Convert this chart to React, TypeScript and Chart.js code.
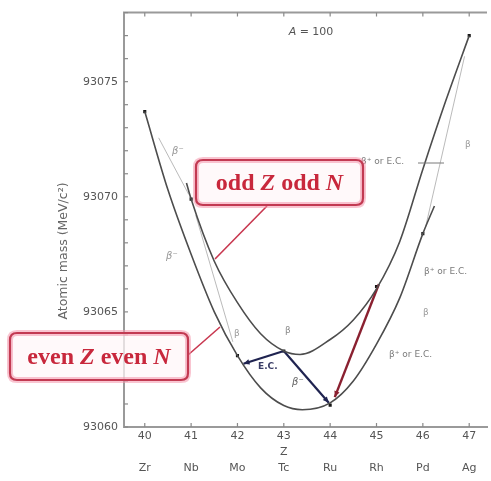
import React, { useEffect, useRef } from 'react';
import { Chart, registerables } from 'chart.js';

Chart.register(...registerables);

// ---- data ----
const Z_TICKS = [40, 41, 42, 43, 44, 45, 46, 47];
const ELEMENTS = ['Zr', 'Nb', 'Mo', 'Tc', 'Ru', 'Rh', 'Pd', 'Ag'];
const MASS_TICKS = [93060, 93061, 93062, 93063, 93064, 93065, 93066, 93067, 93068, 93069, 93070, 93071, 93072, 93073, 93074, 93075, 93076, 93077, 93078];

// even Z even N parabola
const EVEN_Z = [40, 40.5, 41, 41.5, 42, 42.5, 43, 43.4, 44, 44.5, 45, 45.5, 46, 46.25];
const EVEN_M = [93073.7, 93070.3, 93067.5, 93065.0, 93063.1, 93061.7, 93060.93, 93060.75, 93061.05, 93062.0, 93063.6, 93065.6, 93068.4, 93069.6];

// odd Z odd N parabola
const ODD_Z = [40.9, 41, 41.5, 42, 42.5, 43, 43.35, 44, 44.5, 45, 45.5, 46, 46.5, 47];
const ODD_M = [93070.6, 93069.9, 93067.2, 93065.4, 93064.05, 93063.3, 93063.15, 93063.8, 93064.65, 93066.0, 93068.05, 93071.2, 93074.2, 93077.0];

// nuclides (A = 100)
const NUCLIDE_Z = [40, 41, 42, 43, 44, 45, 46, 47];
const NUCLIDE_M = [93073.7, 93069.9, 93063.1, 93063.3, 93060.95, 93066.1, 93068.4, 93077.0];

// decay arrows
const DECAY_FROM_Z = [40.3, 41.1, 43, 43, 45.05, 46.9];
const DECAY_FROM_M = [93072.56, 93069.2, 93063.3, 93063.3, 93066.2, 93076.1];
const DECAY_TO_Z = [40.95, 41.9, 42.13, 43.97, 44.1, 46.06];
const DECAY_TO_M = [93070.1, 93063.7, 93062.75, 93061.05, 93061.3, 93068.7];
const DECAY_KIND = ['faint', 'faint', 'ec', 'beta', 'betaplus', 'faint'];

const KIND_STYLE: Record<string, { color: string; width: number; head: number }> = {
  faint: { color: 'rgba(140,140,140,0.6)', width: 1, head: 0 },
  ec: { color: '#1f2350', width: 2.2, head: 6 },
  beta: { color: '#1f2350', width: 2.2, head: 6 },
  betaplus: { color: '#8a2030', width: 2.4, head: 6 },
};

const FONT = '"DejaVu Sans", sans-serif';

function drawCallout(
  ctx: CanvasRenderingContext2D,
  bx: number, by: number, bw: number, bh: number,
  parts: { t: string; italic: boolean }[],
  from: [number, number], to: [number, number]
) {
  ctx.save();
  ctx.strokeStyle = '#c8374f';
  ctx.lineWidth = 1.6;
  ctx.beginPath();
  ctx.moveTo(from[0], from[1]);
  ctx.lineTo(to[0], to[1]);
  ctx.stroke();
  const r = 7;
  ctx.beginPath();
  ctx.moveTo(bx + r, by);
  ctx.lineTo(bx + bw - r, by);
  ctx.quadraticCurveTo(bx + bw, by, bx + bw, by + r);
  ctx.lineTo(bx + bw, by + bh - r);
  ctx.quadraticCurveTo(bx + bw, by + bh, bx + bw - r, by + bh);
  ctx.lineTo(bx + r, by + bh);
  ctx.quadraticCurveTo(bx, by + bh, bx, by + bh - r);
  ctx.lineTo(bx, by + r);
  ctx.quadraticCurveTo(bx, by, bx + r, by);
  ctx.closePath();
  ctx.fillStyle = 'rgba(255,246,248,0.72)';
  ctx.fill();
  ctx.strokeStyle = 'rgba(244,150,172,0.55)';
  ctx.lineWidth = 6;
  ctx.stroke();
  ctx.strokeStyle = '#c23a52';
  ctx.lineWidth = 2.2;
  ctx.stroke();
  const fontFor = (it: boolean) => `${it ? 'italic ' : ''}bold 24px "Liberation Serif", serif`;
  let total = 0;
  for (const p of parts) {
    ctx.font = fontFor(p.italic);
    total += ctx.measureText(p.t).width;
  }
  let x = bx + bw / 2 - total / 2;
  const y = by + bh / 2 + 1;
  ctx.fillStyle = '#c8283c';
  ctx.textBaseline = 'middle';
  ctx.textAlign = 'left';
  for (const p of parts) {
    ctx.font = fontFor(p.italic);
    ctx.fillText(p.t, x, y);
    x += ctx.measureText(p.t).width;
  }
  ctx.restore();
}

const decorPlugin = {
  id: 'decor',
  afterDatasetsDraw(chart: any) {
    const { ctx, scales } = chart;
    const xs = scales.x, ys = scales.y;
    ctx.save();
    DECAY_KIND.forEach((k, i) => {
      const st = KIND_STYLE[k];
      if (!st.head) return;
      const x0 = xs.getPixelForValue(DECAY_FROM_Z[i]);
      const y0 = ys.getPixelForValue(DECAY_FROM_M[i]);
      const x1 = xs.getPixelForValue(DECAY_TO_Z[i]);
      const y1 = ys.getPixelForValue(DECAY_TO_M[i]);
      const a = Math.atan2(y1 - y0, x1 - x0);
      const h = st.head;
      ctx.fillStyle = st.color;
      ctx.beginPath();
      ctx.moveTo(x1, y1);
      ctx.lineTo(x1 - h * Math.cos(a) + (h / 2.2) * Math.sin(a), y1 - h * Math.sin(a) - (h / 2.2) * Math.cos(a));
      ctx.lineTo(x1 - h * Math.cos(a) - (h / 2.2) * Math.sin(a), y1 - h * Math.sin(a) + (h / 2.2) * Math.cos(a));
      ctx.closePath();
      ctx.fill();
    });
    ctx.restore();
  },
  afterDraw(chart: any) {
    const { ctx, chartArea, scales } = chart;
    const { left, top, right, bottom } = chartArea;
    const xs = scales.x, ys = scales.y;
    ctx.save();
    ctx.strokeStyle = '#9a9a9a';
    ctx.lineWidth = 2;
    ctx.beginPath();
    ctx.moveTo(left - 1, top);
    ctx.lineTo(right, top);
    ctx.stroke();
    ctx.strokeStyle = '#8a8a8a';
    ctx.lineWidth = 1.2;
    for (const v of Z_TICKS) {
      const px = xs.getPixelForValue(v);
      ctx.beginPath();
      ctx.moveTo(px, top);
      ctx.lineTo(px, top + 4);
      ctx.moveTo(px, bottom);
      ctx.lineTo(px, bottom - 4);
      ctx.stroke();
    }
    for (const v of MASS_TICKS) {
      const py = ys.getPixelForValue(v);
      ctx.beginPath();
      ctx.moveTo(left, py);
      ctx.lineTo(left + 4, py);
      ctx.stroke();
    }
    ctx.save();
    ctx.translate(64, 251);
    ctx.rotate(-Math.PI / 2);
    ctx.font = `12.5px ${FONT}`;
    ctx.fillStyle = '#666';
    ctx.textAlign = 'center';
    ctx.textBaseline = 'middle';
    ctx.fillText('Atomic mass (MeV/c\u00B2)', 0, 0);
    ctx.restore();

    ctx.fillStyle = '#555';
    ctx.textBaseline = 'middle';
    ctx.textAlign = 'left';
    ctx.font = `italic 11px ${FONT}`;
    const aw = ctx.measureText('A').width;
    ctx.font = `11px ${FONT}`;
    const rw = ctx.measureText(' = 100').width;
    const ax = 311 - (aw + rw) / 2;
    ctx.font = `italic 11px ${FONT}`;
    ctx.fillText('A', ax, 32);
    ctx.font = `11px ${FONT}`;
    ctx.fillText(' = 100', ax + aw, 32);

    const label = (t: string, x: number, y: number, color: string, size = 9, style = '') => {
      ctx.font = `${style}${size}px ${FONT}`;
      ctx.fillStyle = color;
      ctx.fillText(t, x, y);
    };
    const grey = '#7a7a7a';
    label('\u03B2\u207A or E.C.', 361, 162, grey);
    ctx.strokeStyle = grey;
    ctx.lineWidth = 1;
    ctx.beginPath();
    ctx.moveTo(418, 163);
    ctx.lineTo(444, 163);
    ctx.stroke();
    label('\u03B2\u207A or E.C.', 424, 272, grey);
    label('\u03B2\u207A or E.C.', 389, 355, grey);
    label('\u03B2', 423, 313, '#999');
    label('\u03B2', 465, 145, '#999');
    label('\u03B2', 285, 331, '#888');
    label('\u03B2', 234, 334, '#999');
    label('\u03B2\u207B', 172, 151, '#999', 10, 'italic ');
    label('\u03B2\u207B', 166, 256, '#999', 10, 'italic ');
    label('E.C.', 258, 367, '#3a3d66', 9, 'bold ');
    label('\u03B2\u207B', 292, 382, '#666', 10, 'italic ');

    ctx.restore();

    drawCallout(ctx, 196, 160, 167, 45,
      [{ t: 'odd ', italic: false }, { t: 'Z', italic: true }, { t: ' odd ', italic: false }, { t: 'N', italic: true }],
      [267, 206], [215, 259]);
    drawCallout(ctx, 10, 333, 178, 47,
      [{ t: 'even ', italic: false }, { t: 'Z', italic: true }, { t: ' even ', italic: false }, { t: 'N', italic: true }],
      [188, 355], [220, 327]);
  },
};

export default function App() {
  const ref = useRef<HTMLCanvasElement | null>(null);

  useEffect(() => {
    if (!ref.current) return;
    Chart.defaults.font.family = FONT;

    const arrowSets = DECAY_KIND.map((k, i) => ({
      label: `decay-${i}`,
      data: [
        { x: DECAY_FROM_Z[i], y: DECAY_FROM_M[i] },
        { x: DECAY_TO_Z[i], y: DECAY_TO_M[i] },
      ],
      showLine: true,
      borderColor: KIND_STYLE[k].color,
      borderWidth: KIND_STYLE[k].width,
      pointRadius: 0,
      tension: 0,
    }));

    const chart = new Chart(ref.current, {
      type: 'scatter',
      data: {
        datasets: [
          {
            label: 'even Z even N',
            data: EVEN_Z.map((z, i) => ({ x: z, y: EVEN_M[i] })),
            showLine: true,
            borderColor: '#4d4d4d',
            borderWidth: 1.6,
            pointRadius: 0,
            cubicInterpolationMode: 'monotone',
          },
          {
            label: 'odd Z odd N',
            data: ODD_Z.map((z, i) => ({ x: z, y: ODD_M[i] })),
            showLine: true,
            borderColor: '#4d4d4d',
            borderWidth: 1.6,
            pointRadius: 0,
            cubicInterpolationMode: 'monotone',
          },
          ...arrowSets,
          {
            label: 'nuclides',
            data: NUCLIDE_Z.map((z, i) => ({ x: z, y: NUCLIDE_M[i] })),
            showLine: false,
            pointStyle: 'rect',
            pointRadius: 2.2,
            backgroundColor: '#151515',
            borderColor: '#151515',
            borderWidth: 0,
          },
        ] as any,
      },
      options: {
        animation: false,
        responsive: false,
        maintainAspectRatio: false,
        layout: { padding: { top: 10, right: 0, bottom: 0, left: 0 } },
        plugins: { legend: { display: false }, tooltip: { enabled: false } },
        scales: {
          x: {
            type: 'linear',
            min: 39.552,
            max: 47.384,
            afterBuildTicks: (s: any) => {
              s.ticks = Z_TICKS.map((v) => ({ value: v }));
            },
            afterFit: (s: any) => {
              s.height = 54;
            },
            grid: { display: false, drawTicks: false },
            border: { display: true, color: '#9a9a9a', width: 2 },
            ticks: {
              autoSkip: false,
              maxRotation: 0,
              padding: 1,
              color: '#555',
              font: { size: 11, family: FONT, lineHeight: '16px' } as any,
              callback: (v: any) => {
                const i = Z_TICKS.indexOf(Number(v));
                return [String(v), Number(v) === 43 ? 'Z' : '', i >= 0 ? ELEMENTS[i] : ''];
              },
            },
          },
          y: {
            type: 'linear',
            min: 93060,
            max: 93078,
            afterBuildTicks: (s: any) => {
              s.ticks = MASS_TICKS.map((v) => ({ value: v }));
            },
            afterFit: (s: any) => {
              s.width = 124;
            },
            grid: { display: false, drawTicks: false },
            border: { display: true, color: '#9a9a9a', width: 2 },
            ticks: {
              autoSkip: false,
              padding: 6,
              color: '#555',
              font: { size: 11, family: FONT },
              callback: (v: any) => (Number(v) % 5 === 0 ? String(v) : ''),
            },
          },
        },
      },
      plugins: [decorPlugin],
    });

    return () => chart.destroy();
  }, []);

  return (
    <div style={{ position: 'fixed', left: 0, top: 0, width: 491, height: 481, background: '#fff' }}>
      <canvas ref={ref} width={491} height={481} style={{ display: 'block' }} />
    </div>
  );
}
